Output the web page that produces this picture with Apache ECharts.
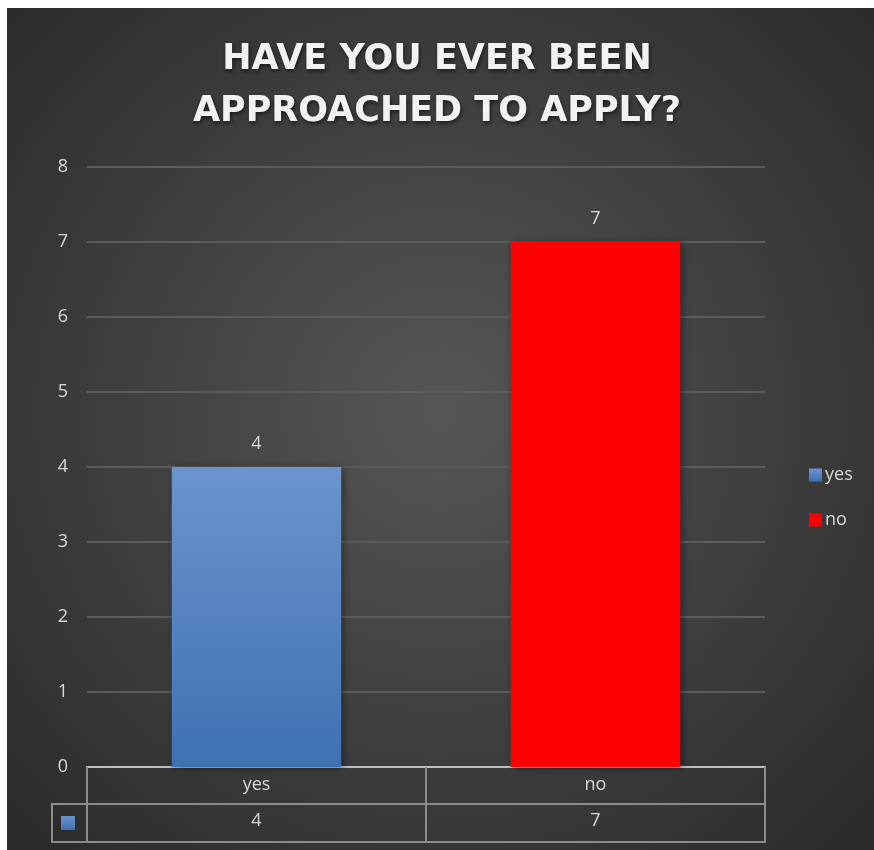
<!DOCTYPE html>
<html>
<head>
<meta charset="utf-8">
<script src="https://cdn.jsdelivr.net/npm/echarts@6/dist/echarts.min.js"></script>
<style>
  html, body { margin: 0; padding: 0; background: #ffffff; }
  #chart { width: 874px; height: 850px; }
</style>
</head>
<body>
<div id="chart"></div>
<script>
// Survey answers
const categories = ['yes', 'no'];
const values = [4, 7];
const yTicks = [0, 1, 2, 3, 4, 5, 6, 7, 8];

const textColor = '#d9d9d9';
const blueFill = new echarts.graphic.LinearGradient(0, 0, 0, 1, [
  { offset: 0, color: '#6b94cd' },
  { offset: 1, color: '#3d71b3' }
]);
const seriesColors = [blueFill, '#ff0000'];

const chart = echarts.init(document.getElementById('chart'), null, { renderer: 'canvas' });

// one series per answer so the legend lists both
const series = categories.map((name, i) => ({
  name: name,
  type: 'bar',
  barWidth: '50%',
  barGap: '-100%',
  data: categories.map((c, j) => (j === i ? values[j] : '-')),
  itemStyle: {
    color: seriesColors[i],
    shadowBlur: 8,
    shadowColor: 'rgba(0,0,0,0.45)',
    shadowOffsetX: 2,
    shadowOffsetY: 1
  },
  label: {
    show: true,
    position: 'top',
    distance: 14,
    color: textColor,
    fontSize: 18,
    fontFamily: 'Open Sans'
  }
}));

const tableLine = { show: true, lineStyle: { color: '#8c8c8c', width: 2 } };

chart.setOption({
  backgroundColor: '#ffffff',
  animation: false,
  title: {
    text: 'HAVE YOU EVER BEEN\nAPPROACHED TO APPLY?',
    left: 'center',
    top: 29,
    textStyle: {
      color: '#f2f2f2',
      fontFamily: 'DejaVu Sans',
      fontWeight: 'bold',
      fontSize: 35,
      lineHeight: 52,
      textShadowColor: 'rgba(0,0,0,0.6)',
      textShadowBlur: 4,
      textShadowOffsetX: 1,
      textShadowOffsetY: 2
    }
  },
  legend: {
    orient: 'vertical',
    left: 804,
    top: 461,
    itemWidth: 13,
    itemHeight: 13,
    itemGap: 27,
    icon: 'rect',
    data: categories,
    textStyle: { color: textColor, fontSize: 18, fontFamily: 'Open Sans', padding: [0, 0, 0, -2] }
  },
  grid: { left: 87, right: 109, top: 167, bottom: 83, containLabel: false },
  xAxis: [
    {
      type: 'category',
      data: categories,
      position: 'bottom',
      axisLine: { show: true, lineStyle: { color: '#bfbfbf', width: 2 } },
      axisTick: { show: true, alignWithLabel: false, length: 75, lineStyle: { color: '#8c8c8c', width: 2 } },
      axisLabel: { color: textColor, fontSize: 18, fontFamily: 'Open Sans', margin: 9 }
    },
    {
      type: 'category',
      data: categories,
      position: 'bottom',
      offset: 37,
      axisLine: tableLine,
      axisTick: { show: false },
      axisLabel: {
        color: textColor, fontSize: 18, fontFamily: 'Open Sans', margin: 8,
        formatter: (v, i) => String(values[i])
      }
    },
    {
      type: 'category',
      data: categories,
      position: 'bottom',
      offset: 75,
      axisLine: tableLine,
      axisTick: { show: false },
      axisLabel: { show: false }
    }
  ],
  yAxis: {
    type: 'value',
    min: yTicks[0],
    max: yTicks[yTicks.length - 1],
    interval: 1,
    axisLine: { show: false },
    axisTick: { show: false },
    splitLine: { lineStyle: { color: '#5c5c5c', width: 2 } },
    axisLabel: { color: textColor, fontSize: 18, fontFamily: 'Open Sans', margin: 19 }
  },
  graphic: [
    {
      type: 'rect',
      z: -100,
      silent: true,
      shape: { x: 7, y: 8, width: 867, height: 842 },
      style: {
        fill: new echarts.graphic.RadialGradient(0.5, 0.48, 0.72, [
          { offset: 0, color: '#565656' },
          { offset: 1, color: '#2a2a2a' }
        ])
      }
    },
    {
      // legend-key cell at the left of the value row
      type: 'polyline',
      silent: true,
      shape: { points: [[87, 804], [52, 804], [52, 842], [87, 842]] },
      style: { stroke: '#8c8c8c', lineWidth: 2, fill: null }
    },
    {
      type: 'rect',
      silent: true,
      shape: { x: 61, y: 816, width: 14, height: 14 },
      style: { fill: blueFill }
    }
  ],
  series: series
});
</script>
</body>
</html>
